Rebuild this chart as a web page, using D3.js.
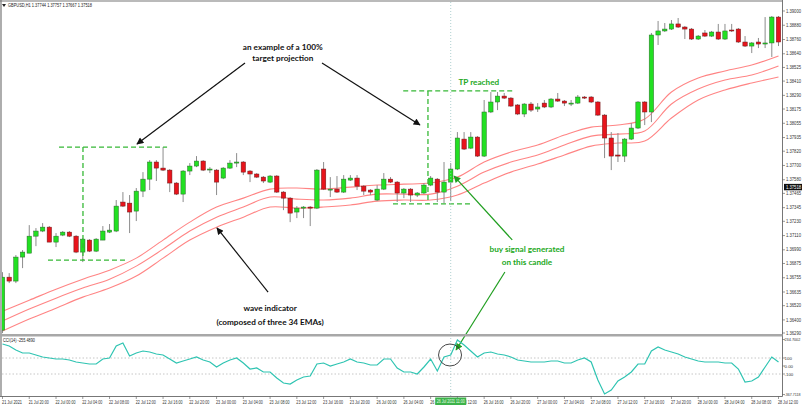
<!DOCTYPE html>
<html><head><meta charset="utf-8">
<script src="https://cdn.jsdelivr.net/npm/d3@7"></script>
<style>body{margin:0;background:#fff}svg{display:block}</style>
</head><body>
<svg id="c" width="802" height="407"></svg>
<script>
// ---------- DATA ----------
const symbolHeader = "GBPUSD,H1  1.37744 1.37757 1.37667 1.37518";
const cciHeader = "CCI(14) -255.4890";
const currentPrice = 1.37518;

const opens = [1.36314,1.36760,1.36727,1.36929,1.36962,1.37105,1.37148,1.37181,1.37055,1.37114,
1.37139,1.37105,1.36971,1.37072,1.36979,1.37072,1.37139,1.37148,1.37392,1.37383,
1.37316,1.37484,1.37585,1.37729,1.37678,1.37661,1.37552,1.37459,1.37653,1.37695,
1.37737,1.37670,1.37661,1.37594,1.37678,1.37720,1.37729,1.37653,1.37628,1.37602,
1.37560,1.37611,1.37476,1.37425,1.37308,1.37341,1.37350,1.37341,1.37670,1.37501,
1.37501,1.37476,1.37577,1.37594,1.37526,1.37493,1.37409,1.37501,1.37585,1.37560,
1.37468,1.37501,1.37451,1.37468,1.37535,1.37585,1.37476,1.37560,1.37670,1.37922,
1.37846,1.37939,1.37779,1.38150,1.38234,1.38284,1.38267,1.38209,1.38133,1.38217,
1.38175,1.38225,1.38192,1.38259,1.38242,1.38225,1.38225,1.38276,1.38276,1.38234,
1.38124,1.37931,1.37788,1.37779,1.37922,1.38015,1.38234,1.38150,1.38798,1.38832,
1.38848,1.38891,1.38865,1.38848,1.38764,1.38815,1.38789,1.38823,1.38764,1.38840,
1.38848,1.38739,1.38705,1.38739,1.38722,1.38731,1.38949];
const highs = [1.36802,1.36794,1.36946,1.36988,1.37198,1.37173,1.37215,1.37190,1.37131,1.37148,
1.37148,1.37114,1.37089,1.37080,1.37089,1.37190,1.37207,1.37409,1.37476,1.37451,
1.37510,1.37644,1.37745,1.37745,1.37855,1.37670,1.37560,1.37661,1.37720,1.37779,
1.37745,1.37686,1.37670,1.37686,1.37745,1.37804,1.37737,1.37661,1.37636,1.37611,
1.37619,1.37619,1.37484,1.37434,1.37358,1.37358,1.37358,1.37670,1.37729,1.37602,
1.37611,1.37619,1.37619,1.37619,1.37535,1.37501,1.37535,1.37636,1.37602,1.37569,
1.37510,1.37510,1.37476,1.37552,1.37611,1.37594,1.37729,1.37720,1.37981,1.37981,
1.37981,1.37947,1.38251,1.38318,1.38318,1.38310,1.38276,1.38217,1.38225,1.38234,
1.38225,1.38251,1.38267,1.38310,1.38251,1.38251,1.38293,1.38284,1.38284,1.38242,
1.38133,1.37981,1.37973,1.37931,1.38057,1.38242,1.38242,1.38815,1.38916,1.38899,
1.38924,1.38941,1.38874,1.38857,1.38798,1.38840,1.38832,1.38891,1.38891,1.38891,
1.38857,1.38789,1.38739,1.38773,1.38949,1.38958,1.38958];
const lows = [1.36289,1.36710,1.36710,1.36836,1.36962,1.37021,1.37139,1.37055,1.37013,1.37105,
1.37097,1.36962,1.36887,1.36971,1.36971,1.37072,1.37131,1.37139,1.37350,1.37131,
1.37232,1.37434,1.37493,1.37569,1.37653,1.37476,1.37451,1.37392,1.37619,1.37686,
1.37653,1.37636,1.37451,1.37585,1.37670,1.37686,1.37619,1.37560,1.37594,1.37552,
1.37552,1.37468,1.37324,1.37223,1.37257,1.37257,1.37190,1.37333,1.37493,1.37434,
1.37468,1.37468,1.37569,1.37493,1.37451,1.37451,1.37400,1.37493,1.37552,1.37392,
1.37425,1.37392,1.37434,1.37459,1.37526,1.37392,1.37383,1.37400,1.37661,1.37830,
1.37838,1.37771,1.37771,1.38141,1.38166,1.38259,1.38192,1.38124,1.38107,1.38150,
1.38150,1.38183,1.38183,1.38234,1.38200,1.38200,1.38217,1.38259,1.38225,1.38116,
1.37762,1.37661,1.37729,1.37729,1.37914,1.38007,1.38040,1.38065,1.38714,1.38823,
1.38840,1.38857,1.38764,1.38756,1.38756,1.38781,1.38781,1.38756,1.38756,1.38823,
1.38731,1.38697,1.38646,1.38688,1.38688,1.38613,1.38705];
const closes = [1.36760,1.36727,1.36929,1.36971,1.37105,1.37148,1.37181,1.37055,1.37105,1.37139,
1.37105,1.36971,1.37080,1.36979,1.37080,1.37148,1.37156,1.37358,1.37358,1.37308,
1.37484,1.37585,1.37729,1.37678,1.37661,1.37552,1.37459,1.37653,1.37695,1.37737,
1.37661,1.37670,1.37560,1.37678,1.37720,1.37729,1.37644,1.37628,1.37602,1.37569,
1.37611,1.37476,1.37425,1.37299,1.37341,1.37350,1.37341,1.37661,1.37501,1.37501,
1.37476,1.37585,1.37594,1.37526,1.37484,1.37476,1.37501,1.37585,1.37560,1.37468,
1.37501,1.37451,1.37468,1.37535,1.37594,1.37476,1.37560,1.37670,1.37931,1.37838,
1.37939,1.37779,1.38150,1.38234,1.38284,1.38267,1.38200,1.38133,1.38217,1.38166,
1.38192,1.38192,1.38259,1.38242,1.38225,1.38225,1.38276,1.38267,1.38234,1.38124,
1.37931,1.37779,1.37779,1.37922,1.38015,1.38234,1.38150,1.38798,1.38832,1.38848,
1.38891,1.38865,1.38848,1.38764,1.38789,1.38789,1.38823,1.38764,1.38832,1.38832,
1.38739,1.38705,1.38731,1.38722,1.38731,1.38949,1.38739];

const emaBars = [0,4,8,12,16,20,24,28,32,36,40,44,48,52,56,60,64,68,72,76,80,84,88,92,96,100,104,108,112,116];
const emaUpper = [1.36474,1.36566,1.36659,1.36743,1.36819,1.36920,1.37072,1.37223,1.37350,1.37425,
1.37501,1.37510,1.37501,1.37518,1.37535,1.37543,1.37552,1.37602,1.37729,1.37813,
1.37872,1.37956,1.38023,1.38040,1.38091,1.38318,1.38436,1.38495,1.38545,1.38621];
const emaMiddle = [1.36390,1.36491,1.36583,1.36668,1.36743,1.36853,1.36996,1.37148,1.37265,1.37350,
1.37434,1.37417,1.37409,1.37425,1.37459,1.37459,1.37459,1.37526,1.37644,1.37729,
1.37788,1.37872,1.37947,1.37964,1.37990,1.38217,1.38343,1.38419,1.38461,1.38537];
const emaLower = [1.36306,1.36407,1.36499,1.36592,1.36668,1.36769,1.36920,1.37072,1.37181,1.37265,
1.37350,1.37341,1.37350,1.37367,1.37400,1.37409,1.37409,1.37451,1.37552,1.37644,
1.37712,1.37788,1.37863,1.37889,1.37905,1.38099,1.38251,1.38335,1.38394,1.38444];

const cciValues = [275,250,200,162.5,162.5,137.5,112.5,100,87.5,87.5,
75,50,37.5,25,25,87.5,100,250,287.5,125,
162.5,187.5,175,150,137.5,87.5,37.5,62.5,87.5,112.5,
75,50,-12.5,37.5,75,100,37.5,-37.5,-25,-75,
-75,-150,-212.5,-225,-175,-137.5,-125,25,37.5,0,
25,50,87.5,50,37.5,12.5,12.5,87.5,87.5,-25,
-75,-75,-100,-12.5,87.5,-62.5,112.5,137.5,325,262.5,
187.5,112.5,162.5,175,150,137.5,112.5,75,62.5,50,
50,50,62.5,62.5,37.5,37.5,75,100,50,-175,
-350,-300,-187.5,-137.5,-75,25,25,187.5,237.5,200,
175,150,112.5,87.5,62.5,50,50,50,37.5,37.5,
-37.5,-200,-187.5,-137.5,-12.5,112.5,50];
const cciLevels = [100, -100];
const cciAxisLabels = [["100",100],["0.00",0],["-100",-100]];
const cciMaxLabel = "234.7002", cciMinLabel = "-367.7118";

const priceTicks = [1.39000,1.38880,1.38760,1.38640,1.38525,1.38410,1.38290,1.38175,1.38055,1.37935,
1.37820,1.37700,1.37580,1.37465,1.37345,1.37230,1.37110,1.36990,1.36875,1.36755,
1.36635,1.36520,1.36400,1.36290];

const timeLabelBars = [0,4,8,12,16,20,24,28,32,36,40,44,48,52,56,60,64,68,72,76,80,84,88,92,96,100,104,108,112,116];
const timeLabels = ["21 Jul 2021","21 Jul 20:00","22 Jul 00:00","22 Jul 04:00","22 Jul 08:00","22 Jul 12:00",
"22 Jul 16:00","22 Jul 20:00","23 Jul 00:00","23 Jul 04:00","23 Jul 08:00","23 Jul 12:00","23 Jul 16:00",
"23 Jul 20:00","26 Jul 00:00","26 Jul 04:00","26 Jul 08:00","26 Jul 12:00","26 Jul 16:00","26 Jul 20:00",
"27 Jul 00:00","27 Jul 04:00","27 Jul 08:00","27 Jul 12:00","27 Jul 16:00","27 Jul 20:00","28 Jul 00:00",
"28 Jul 04:00","28 Jul 08:00","28 Jul 12:00"];
const crosshairBar = 67;
const crosshairLabel = "26 Jul 2021 11:00";

// annotations in data space: [bar index, price]
const blackTexts = [
  {lines:["an example of a 100%","target projection"], bar:41.9, prices:[1.38672,1.38579]},
  {lines:["wave indicator","(composed of three 34 EMAs)"], bar:40.0, prices:[1.36475,1.36357]}
];
const greenTexts = [
  {lines:["TP reached"], bar:71.2, prices:[1.38377]},
  {lines:["buy signal generated","on this candle"], bar:78.4, prices:[1.36972,1.36862]}
];
const blackArrows = [
  [[36.25,1.38562],[20.1,1.37881]],
  [[47.76,1.38562],[62.4,1.38041]],
  [[39.7,1.36635],[32.06,1.37174]]
];
const greenArrowMain = [[76.2,1.37073],[67.5,1.37611]];
const greenArrowToCci = {from:[75.1,1.36803], toBar:67.8, toCci:200};
const dashedSegments = [
  [[8.45,1.37855],[24.6,1.37855]],
  [[12.03,1.37855],[12.03,1.36904]],
  [[6.8,1.36904],[18.31,1.36904]],
  [[59.9,1.38327],[76.2,1.38327]],
  [[63.6,1.38327],[63.6,1.37376]],
  [[58.37,1.37376],[69.9,1.37376]]
];
const cciCircle = {bar:66.9, value:137.5};

// ---------- SCALES ----------
const svg = d3.select("#c");
const plotR = 782.5, mainTop = 2, mainBot = 334, cciTop = 337, cciBot = 396.5;
const x = d3.scaleLinear().domain([0,116]).range([2.5,778.5]);
const y = d3.scaleLinear().domain([1.36290,1.39000]).range([333,11]);
const yc = d3.scaleLinear().domain([-100,100]).range([374,358]);

const defs = svg.append("defs");
defs.append("clipPath").attr("id","cm").append("rect").attr("x",2).attr("y",mainTop).attr("width",plotR-2).attr("height",mainBot-mainTop);
defs.append("clipPath").attr("id","cc").append("rect").attr("x",2).attr("y",cciTop).attr("width",plotR-2).attr("height",cciBot-cciTop);
function marker(id,color){
  defs.append("marker").attr("id",id).attr("viewBox","0 0 10 10").attr("refX",9).attr("refY",5)
    .attr("markerWidth",8).attr("markerHeight",7).attr("markerUnits","userSpaceOnUse").attr("orient","auto")
    .append("path").attr("d","M0,0 L10,5 L0,10 Z").attr("fill",color);
}
marker("ab","#111"); marker("ag","#1f9e1f");

svg.append("rect").attr("width",802).attr("height",407).attr("fill","#fff");

// ---------- MAIN PANEL ----------
const gm = svg.append("g").attr("clip-path","url(#cm)");
const emaLine = d3.line().x((d,i)=>x(emaBars[i])).y(d=>y(d)).curve(d3.curveCatmullRom);
[emaUpper,emaMiddle,emaLower].forEach(arr=>{
  gm.append("path").attr("d",emaLine(arr)).attr("fill","none").attr("stroke","#ff6f6f").attr("stroke-width",1.1).attr("opacity",0.85);
});

const bars = d3.range(opens.length);
gm.selectAll("line.wick").data(bars).join("line").attr("class","wick")
  .attr("x1",i=>x(i)).attr("x2",i=>x(i)).attr("y1",i=>y(highs[i])).attr("y2",i=>y(lows[i]))
  .attr("stroke","#8c8c8c").attr("stroke-width",1);
const bw = 4.4;
gm.selectAll("rect.body").data(bars).join("rect").attr("class","body")
  .attr("x",i=>x(i)-bw/2).attr("width",bw)
  .attr("y",i=>y(Math.max(opens[i],closes[i])))
  .attr("height",i=>Math.max(1,Math.abs(y(opens[i])-y(closes[i]))))
  .attr("fill",i=>closes[i]>=opens[i]?"#22e022":"#e8141c")
  .attr("stroke",i=>closes[i]>=opens[i]?"#2a6a2a":"#6a1a1a").attr("stroke-width",0.5);

// crosshair
svg.append("line").attr("x1",x(crosshairBar)).attr("x2",x(crosshairBar)).attr("y1",mainTop).attr("y2",cciBot)
  .attr("stroke","#9cc4c4").attr("stroke-width",0.8).attr("stroke-dasharray","1,2");

// dashed projection boxes
dashedSegments.forEach(s=>{
  gm.append("line").attr("x1",x(s[0][0])).attr("y1",y(s[0][1])).attr("x2",x(s[1][0])).attr("y2",y(s[1][1]))
    .attr("stroke","#36b836").attr("stroke-width",1.3).attr("stroke-dasharray","5,3");
});

// arrows
blackArrows.forEach(a=>{
  svg.append("line").attr("x1",x(a[0][0])).attr("y1",y(a[0][1])).attr("x2",x(a[1][0])).attr("y2",y(a[1][1]))
    .attr("stroke","#111").attr("stroke-width",1.2).attr("marker-end","url(#ab)");
});
svg.append("line").attr("x1",x(greenArrowMain[0][0])).attr("y1",y(greenArrowMain[0][1]))
  .attr("x2",x(greenArrowMain[1][0])).attr("y2",y(greenArrowMain[1][1]))
  .attr("stroke","#1f9e1f").attr("stroke-width",1.2).attr("marker-end","url(#ag)");
svg.append("line").attr("x1",x(greenArrowToCci.from[0])).attr("y1",y(greenArrowToCci.from[1]))
  .attr("x2",x(greenArrowToCci.toBar)).attr("y2",yc(greenArrowToCci.toCci))
  .attr("stroke","#1f9e1f").attr("stroke-width",1.2).attr("marker-end","url(#ag)");

// annotation texts
function annot(list,color){
  list.forEach(t=>{
    t.lines.forEach((ln,k)=>{
      svg.append("text").attr("x",x(t.bar)).attr("y",y(t.prices[k])).attr("text-anchor","middle")
        .attr("font-family","Lato, 'Liberation Sans', sans-serif").attr("font-weight","bold")
        .attr("font-size",8.2).attr("fill",color).text(ln);
    });
  });
}
annot(blackTexts,"#111");
annot(greenTexts,"#22a822");

// header
svg.append("path").attr("d","M2,4 L6,4 L4,7 Z").attr("fill","#222");
svg.append("text").attr("x",8).attr("y",7).attr("font-family","'Liberation Sans', sans-serif")
  .attr("font-size",4.6).attr("fill","#222").attr("textLength",84).attr("lengthAdjust","spacingAndGlyphs").text(symbolHeader);

// ---------- CCI PANEL ----------
const gc = svg.append("g").attr("clip-path","url(#cc)");
cciLevels.forEach(v=>{
  gc.append("line").attr("x1",2).attr("x2",plotR).attr("y1",yc(v)).attr("y2",yc(v))
    .attr("stroke","#b8b8b8").attr("stroke-width",0.8).attr("stroke-dasharray","1.5,2");
});
gc.append("path").attr("d",d3.line().x((d,i)=>x(i)).y(d=>yc(d))(cciValues))
  .attr("fill","none").attr("stroke","#2fc4b2").attr("stroke-width",1.2);
svg.append("ellipse").attr("cx",x(cciCircle.bar)).attr("cy",yc(cciCircle.value)).attr("rx",11.5).attr("ry",11)
  .attr("fill","none").attr("stroke","#333").attr("stroke-width",0.9);
svg.append("text").attr("x",3).attr("y",342).attr("font-family","'Liberation Sans', sans-serif")
  .attr("font-size",4.6).attr("fill","#222").attr("textLength",32).attr("lengthAdjust","spacingAndGlyphs").text(cciHeader);

// ---------- FRAME ----------
svg.append("line").attr("x1",0).attr("x2",plotR).attr("y1",1).attr("y2",1).attr("stroke","#777").attr("stroke-width",1.2);
svg.append("line").attr("x1",1).attr("x2",1).attr("y1",0).attr("y2",cciBot).attr("stroke","#777").attr("stroke-width",1.2);
svg.append("line").attr("x1",plotR).attr("x2",plotR).attr("y1",0).attr("y2",cciBot).attr("stroke","#777").attr("stroke-width",1);
svg.append("rect").attr("x",0).attr("y",334).attr("width",plotR).attr("height",2.5).attr("fill","#a8a8a8");
svg.append("line").attr("x1",0).attr("x2",plotR).attr("y1",cciBot).attr("y2",cciBot).attr("stroke","#777").attr("stroke-width",1);

// price axis
const ax = svg.append("g");
priceTicks.forEach(v=>{
  ax.append("line").attr("x1",plotR).attr("x2",plotR+2.5).attr("y1",y(v)).attr("y2",y(v)).attr("stroke","#555").attr("stroke-width",0.6);
  ax.append("text").attr("x",786).attr("y",y(v)+1.6).attr("font-family","'Liberation Sans', sans-serif")
    .attr("font-size",4.6).attr("fill","#333").attr("textLength",15).attr("lengthAdjust","spacingAndGlyphs")
    .text(d3.format(".5f")(v));
});
ax.append("rect").attr("x",784).attr("y",y(currentPrice)-3.2).attr("width",18).attr("height",6.4).attr("fill","#111");
ax.append("text").attr("x",786).attr("y",y(currentPrice)+1.6).attr("font-family","'Liberation Sans', sans-serif")
  .attr("font-size",4.6).attr("fill","#fff").attr("textLength",15).attr("lengthAdjust","spacingAndGlyphs")
  .text(d3.format(".5f")(currentPrice));

// CCI axis
function cciLab(txt,yy,fs){
  ax.append("line").attr("x1",plotR).attr("x2",plotR+2.5).attr("y1",yy).attr("y2",yy).attr("stroke","#555").attr("stroke-width",0.6);
  ax.append("text").attr("x",784.5).attr("y",yy+1.5).attr("font-family","'Liberation Sans', sans-serif")
    .attr("font-size",fs||4.4).attr("fill","#333").text(txt);
}
cciLab(cciMaxLabel,339.5,3.8);
cciAxisLabels.forEach(d=>cciLab(d[0],yc(d[1])));
cciLab(cciMinLabel,394.5,3.6);

// time axis
timeLabelBars.forEach((b,k)=>{
  ax.append("line").attr("x1",x(b)).attr("x2",x(b)).attr("y1",cciBot).attr("y2",cciBot+2.5).attr("stroke","#555").attr("stroke-width",0.6);
  ax.append("text").attr("x",x(b)-0.5).attr("y",403.5).attr("font-family","'Liberation Sans', sans-serif")
    .attr("font-size",4.6).attr("fill","#333").attr("textLength",20).attr("lengthAdjust","spacingAndGlyphs").text(timeLabels[k]);
});
ax.append("rect").attr("x",x(crosshairBar)-15.5).attr("y",397.5).attr("width",31).attr("height",7.5).attr("fill","#3db34a");
ax.append("text").attr("x",x(crosshairBar)-14).attr("y",403.3).attr("font-family","'Liberation Sans', sans-serif")
  .attr("font-size",4.6).attr("fill","#eaffea").attr("textLength",28).attr("lengthAdjust","spacingAndGlyphs").text(crosshairLabel);
</script>
</body></html>
